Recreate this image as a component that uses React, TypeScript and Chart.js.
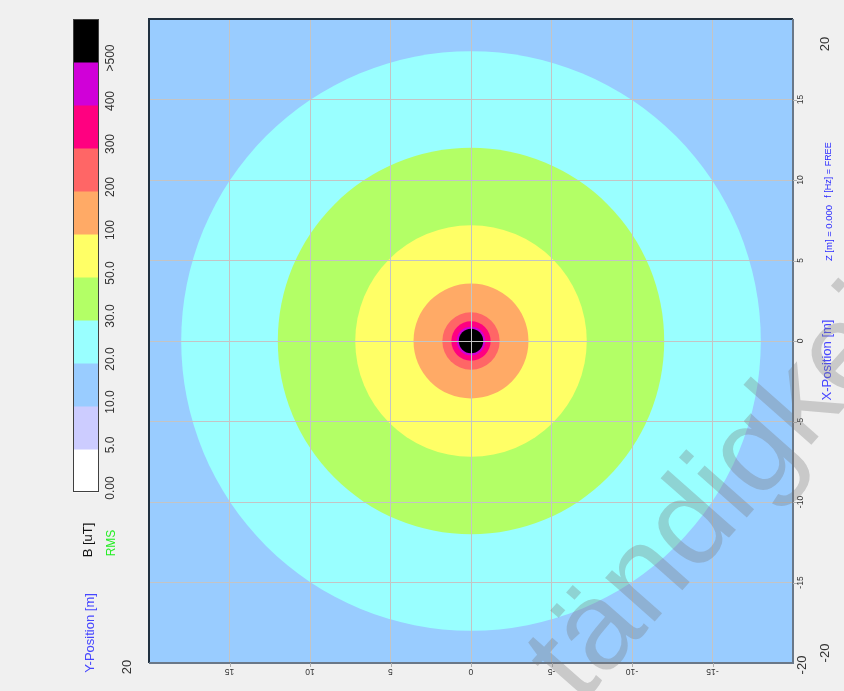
import React, { useEffect, useRef } from "react";
import { Chart, registerables } from "chart.js";

Chart.register(...registerables);

// ---- Data ----
// Colour legend (bottom to top)
const legendLabels = ["0.00", "5.0", "10.0", "20.0", "30.0", "50.0", "100", "200", "300", "400", ">500"];
const legendColors = ["#FFFFFF", "#CCCCFF", "#99CCFF", "#99FFFF", "#B3FF66", "#FFFF66", "#FFAA66", "#FF6666", "#FF0080", "#D000D8", "#000000"];

// Iso-field contours: level (uT) and radius (m) around the source, largest first
const contourLevels = [20, 30, 50, 100, 200, 300, 400, 500];
const contourRadii = [18.0, 12.0, 7.19, 3.57, 1.78, 1.22, 0.89, 0.76];
const contourColors = ["#99FFFF", "#B3FF66", "#FFFF66", "#FFAA66", "#FF6666", "#FF0080", "#D000D8", "#000000"];
const sourceX = 0;
const sourceY = 0;

// Axes
const axisMin = -20;
const axisMax = 20;
const xTickValues = [15, 10, 5, 0, -5, -10, -15];
const yTickValues = [15, 10, 5, 0, -5, -10, -15];
const backgroundLevelColor = "#99CCFF";

const FONT = "Arial, 'Liberation Sans', sans-serif";

function rtext(
  ctx: CanvasRenderingContext2D,
  text: string,
  x: number,
  y: number,
  deg: number,
  size: number,
  color: string
) {
  ctx.save();
  ctx.translate(x, y);
  ctx.rotate((deg * Math.PI) / 180);
  ctx.font = `${size}px ${FONT}`;
  ctx.fillStyle = color;
  ctx.textAlign = "center";
  ctx.textBaseline = "middle";
  ctx.fillText(text, 0, 0);
  ctx.restore();
}

const decorPlugin = {
  id: "decor",
  beforeDraw(chart: any) {
    const { ctx, chartArea: a } = chart;
    ctx.save();
    ctx.fillStyle = "#F0F0F0";
    ctx.fillRect(0, 0, chart.width, chart.height);
    ctx.fillStyle = backgroundLevelColor;
    ctx.fillRect(a.left, a.top, a.right - a.left, a.bottom - a.top);
    ctx.restore();
  },
  afterDraw(chart: any) {
    const { ctx, chartArea: a } = chart;
    const xs = chart.scales.x;
    const ys = chart.scales.y;
    ctx.save();

    // plot border
    ctx.lineWidth = 2;
    ctx.strokeStyle = "#203040";
    ctx.beginPath();
    ctx.moveTo(a.left, a.bottom);
    ctx.lineTo(a.left, a.top);
    ctx.lineTo(a.right, a.top);
    ctx.stroke();
    ctx.strokeStyle = "#6A7888";
    ctx.beginPath();
    ctx.moveTo(a.right, a.top);
    ctx.lineTo(a.right, a.bottom);
    ctx.lineTo(a.left, a.bottom);
    ctx.stroke();

    // small tick marks
    ctx.strokeStyle = "#B0B0B0";
    ctx.lineWidth = 1;
    for (const v of yTickValues) {
      const y = Math.round(ys.getPixelForValue(v)) + 0.5;
      ctx.beginPath();
      ctx.moveTo(a.right, y);
      ctx.lineTo(a.right + 4, y);
      ctx.stroke();
    }
    for (const v of xTickValues) {
      const x = Math.round(xs.getPixelForValue(v)) + 0.5;
      ctx.beginPath();
      ctx.moveTo(x, a.bottom);
      ctx.lineTo(x, a.bottom + 4);
      ctx.stroke();
    }

    // tick labels
    for (const v of yTickValues) {
      rtext(ctx, String(v), a.right + 8, ys.getPixelForValue(v), -90, 8.5, "#333333");
    }
    for (const v of xTickValues) {
      rtext(ctx, String(v), xs.getPixelForValue(v), a.bottom + 8, 180, 8.5, "#333333");
    }

    // corner labels
    rtext(ctx, String(axisMax), 825, ys.getPixelForValue(axisMax) + 25, -90, 13, "#333333");
    rtext(ctx, String(axisMin), 825, ys.getPixelForValue(axisMin) - 10, -90, 13, "#333333");
    rtext(ctx, String(axisMin), a.right + 9, a.bottom + 2, -90, 13, "#333333");
    rtext(ctx, String(axisMax), 127, a.bottom + 4, -90, 13, "#333333");

    // axis titles / info
    rtext(ctx, "X-Position [m]", 827, 360, -90, 13, "#4646FF");
    rtext(ctx, "Z [m] = 0.000", 829, 233, -90, 9.5, "#2828FF");
    rtext(ctx, "f [Hz] = FREE", 829, 170, -90, 9, "#2828FF");
    rtext(ctx, "Y-Position [m]", 90, 633, -90, 13, "#4646FF");
    rtext(ctx, "B [uT]", 88, 540, -90, 13, "#111111");
    rtext(ctx, "RMS", 112, 543, -90, 12, "#22EE22");

    // colour legend bar
    const barL = 73, barR = 99, barTop = 19, barBottom = 492;
    const seg = (barBottom - barTop) / legendColors.length;
    legendColors.forEach((c, i) => {
      ctx.fillStyle = c;
      ctx.fillRect(barL, barBottom - (i + 1) * seg, barR - barL, seg + 0.5);
    });
    ctx.strokeStyle = "#404040";
    ctx.lineWidth = 1;
    ctx.strokeRect(barL + 0.5, barTop + 0.5, barR - barL - 1, barBottom - barTop - 1);
    legendLabels.forEach((t, i) => {
      rtext(ctx, t, 111, barBottom - i * seg - 4, -90, 12, "#333333");
    });

    // watermark
    ctx.save();
    ctx.translate(580, 706);
    ctx.rotate((-48.5 * Math.PI) / 180);
    ctx.font = `125px ${FONT}`;
    ctx.fillStyle = "rgba(120,120,120,0.33)";
    ctx.textAlign = "left";
    ctx.textBaseline = "alphabetic";
    ctx.fillText("tändigkeit", 0, 0);
    ctx.restore();

    ctx.restore();
  },
};

export default function App() {
  const ref = useRef<HTMLCanvasElement | null>(null);

  useEffect(() => {
    const canvas = ref.current;
    if (!canvas) return;
    const pxRadius = (c: any) => {
      const s = c.chart.scales.x;
      if (!s) return 0;
      const r = contourRadii[c.dataIndex];
      return Math.abs(s.getPixelForValue(sourceX + r) - s.getPixelForValue(sourceX));
    };
    const chart = new Chart(canvas, {
      type: "scatter",
      data: {
        datasets: [
          {
            label: "B [uT]",
            data: contourLevels.map(() => ({ x: sourceX, y: sourceY })),
            pointRadius: pxRadius,
            pointHoverRadius: pxRadius,
            pointBackgroundColor: contourColors,
            pointHoverBackgroundColor: contourColors,
            pointBorderWidth: 0,
            pointHoverBorderWidth: 0,
            pointBorderColor: "rgba(0,0,0,0)",
            showLine: false,
          } as any,
        ],
      },
      options: {
        responsive: false,
        animation: false,
        events: [],
        layout: { padding: { left: 149, top: 19, right: 51, bottom: 28 } },
        plugins: { legend: { display: false }, tooltip: { enabled: false } },
        scales: {
          x: {
            type: "linear",
            min: axisMin,
            max: axisMax,
            reverse: true,
            position: "bottom",
            afterFit: (s: any) => {
              s.height = 0;
            },
            ticks: { display: false, stepSize: 5 },
            grid: {
              z: 1,
              drawTicks: false,
              lineWidth: 1,
              color: (c: any) =>
                Math.abs(c.tick?.value) === 20 ? "rgba(0,0,0,0)" : "#C4C4C4",
            },
            border: { display: false },
          },
          y: {
            type: "linear",
            min: axisMin,
            max: axisMax,
            position: "right",
            afterFit: (s: any) => {
              s.width = 0;
            },
            ticks: { display: false, stepSize: 5 },
            grid: {
              z: 1,
              drawTicks: false,
              lineWidth: 1,
              color: (c: any) =>
                Math.abs(c.tick?.value) === 20 ? "rgba(0,0,0,0)" : "#C4C4C4",
            },
            border: { display: false },
          },
        },
      } as any,
      plugins: [decorPlugin],
    });
    return () => chart.destroy();
  }, []);

  return (
    <div
      style={{
        position: "fixed",
        left: 0,
        top: 0,
        width: 844,
        height: 691,
        background: "#F0F0F0",
      }}
    >
      <canvas ref={ref} width={844} height={691} style={{ display: "block" }} />
    </div>
  );
}
